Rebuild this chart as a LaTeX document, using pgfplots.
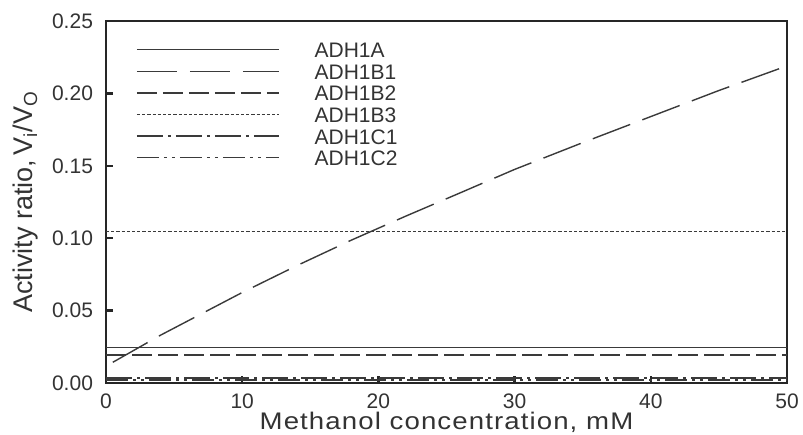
\documentclass[border=0pt]{standalone}
\usepackage{fontspec}
\setmainfont{Liberation Sans}
\usepackage{graphicx}
\usepackage{pgfplots}
\pgfplotsset{compat=1.18}
\definecolor{ln}{HTML}{3A3A3A}
\begin{document}
\begin{tikzpicture}
\useasboundingbox (-53pt,-25.5pt) rectangle (348.5pt,191.5pt);
\begin{axis}[
at={(0,0)}, anchor=south west,
scale only axis, width=340.5pt, height=181pt,
xmin=0, xmax=50, ymin=0, ymax=0.25,
xtick={0,10,20,30,40,50},
ytick={0,0.05,0.10,0.15,0.20,0.25},
/pgf/number format/assume math mode=true,
tick align=inside, xtick pos=lower, ytick pos=left,
major tick length=3.5pt,
axis line style={line width=1.2pt, black!85},
tick style={line width=1.2pt, black!85},
tick label style={font=\fontsize{10.5}{12}\selectfont, black!80},
xticklabel style={yshift=-2pt},
yticklabel style={xshift=-3pt, /pgf/number format/.cd, fixed, fixed zerofill, precision=2},
xlabel={\scalebox{1.15}[1]{\addfontfeature{LetterSpace=4}Methanol concentration, mM}},
ylabel={Activity ratio,\,V\textsubscript{i}/V\textsubscript{O}},
label style={font=\fontsize{13.5}{16}\selectfont, black!80},
xlabel style={font=\fontsize{12}{14}\selectfont, at={(axis description cs:0.5,0)}, anchor=base, yshift=-23pt},
legend style={draw=none, fill=none, at={(0.035,0.955)}, anchor=north west,
  font=\fontsize{10.5}{12}\selectfont, text=black!80, row sep=2.8pt,
  nodes={inner sep=0pt, text height=8pt, text depth=0pt},
  /tikz/every odd column/.append style={column sep=17.5pt}},
legend cell align=left,
legend image code/.code={\draw[#1] (0pt,0pt) -- (71pt,0pt);},
every axis plot/.append style={ln, line width=0.7pt},
]
% ADH1A
\addplot[solid] coordinates {(0,0.0245) (50,0.0245)};
% ADH1B1
\addplot[dash pattern=on 20pt off 6.5pt] coordinates {
(0.5,0.0143) (4,0.033) (10,0.0625) (14,0.081) (18,0.0986) (22,0.1152)
(26,0.1313) (30,0.1475) (35,0.166) (40,0.184) (45,0.202) (50,0.219)};
% ADH1B2
\addplot[dash pattern=on 10pt off 3pt] coordinates {(0,0.0194) (50,0.0194)};
% ADH1B3
\addplot[dash pattern=on 1.6pt off 1pt] coordinates {(0,0.1048) (50,0.1048)};
% ADH1C1
\addplot[dash pattern=on 13pt off 2.5pt on 1.5pt off 2.5pt] coordinates {(0,0.0035) (50,0.0035)};
% ADH1C2
\addplot[dash pattern=on 11pt off 2.5pt on 1.5pt off 2.5pt on 1.5pt off 2.5pt] coordinates {(0,0.0022) (50,0.0022)};
\legend{ADH1A,ADH1B1,ADH1B2,ADH1B3,ADH1C1,ADH1C2}
\end{axis}
\end{tikzpicture}
\end{document}
